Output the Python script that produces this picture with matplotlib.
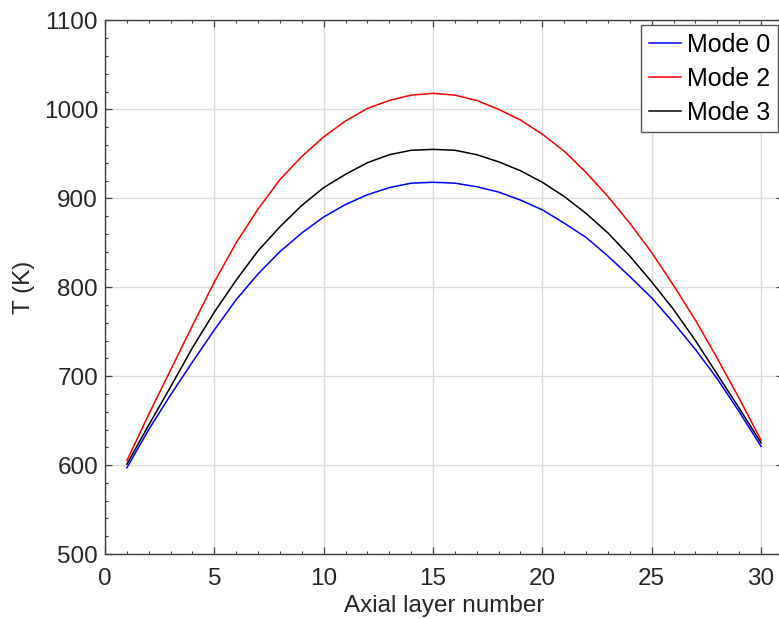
import matplotlib
matplotlib.use("Agg")
import matplotlib.pyplot as plt
import matplotlib.ticker as mtick

# axial layer index
layers = list(range(1, 31))

# temperature per layer (K)
mode0 = [597, 640, 679, 716, 752, 786, 815, 840, 861, 879,
         893, 904, 912, 917, 918, 917, 913, 907, 898, 887,
         872, 856, 835, 812, 788, 760, 730, 697, 660, 621]
mode2 = [605, 657, 707, 757, 806, 850, 888, 921, 947, 969,
         987, 1001, 1010, 1016, 1018, 1016, 1010, 1000, 988, 972,
         953, 929, 902, 872, 839, 802, 763, 720, 675, 628]
mode3 = [601, 645, 688, 732, 772, 808, 841, 868, 892, 912,
         927, 940, 949, 954, 955, 954, 949, 941, 931, 918,
         902, 883, 861, 835, 806, 775, 740, 702, 664, 625]

x_ticks = [0, 5, 10, 15, 20, 25, 30]
y_ticks = [500, 600, 700, 800, 900, 1000, 1100]

plt.rcParams.update({"font.family": "Liberation Sans", "font.size": 17})

fig = plt.figure(figsize=(7.79, 6.19), dpi=100)
ax = fig.add_axes([0.1348, 0.105, 1.005 - 0.1348, 0.967 - 0.105])

ax.plot(layers, mode0, color="#0000ff", lw=1.1, label="Mode 0")
ax.plot(layers, mode2, color="#ff0000", lw=1.1, label="Mode 2")
ax.plot(layers, mode3, color="#000000", lw=1.1, label="Mode 3")

ax.set_xlim(0, 31)
ax.set_ylim(500, 1100)
ax.set_xticks(x_ticks)
ax.set_yticks(y_ticks)
ax.xaxis.set_minor_locator(mtick.MultipleLocator(1))
ax.yaxis.set_minor_locator(mtick.MultipleLocator(20))

ax.grid(True, which="major", color="#dcdcdc", lw=1.0)
ax.set_axisbelow(True)

ax.tick_params(which="both", direction="in", top=True, right=True,
               colors="#404040", labelcolor="#262626", labelsize=17.5)
ax.tick_params(which="major", length=5, width=0.9)
ax.tick_params(which="minor", length=2.5, width=0.8)
ax.tick_params(axis="x", pad=10)
ax.tick_params(axis="y", pad=5)
for s in ax.spines.values():
    s.set_color("#404040")
    s.set_linewidth(1.0)

ax.set_xlabel("Axial layer number", fontsize=17.5, color="#262626", labelpad=4)
ax.set_ylabel("T (K)", fontsize=17.5, color="#262626", labelpad=6)

leg = ax.legend(loc="upper right", bbox_to_anchor=(0.999, 0.959),
                bbox_transform=fig.transFigure, borderaxespad=0,
                fancybox=False, framealpha=1, edgecolor="#555555",
                fontsize=18, handlelength=1.3, handletextpad=0.25,
                labelspacing=0.4, borderpad=0.3)
leg.get_frame().set_linewidth(1.0)

fig.savefig("out.png", dpi=100)
